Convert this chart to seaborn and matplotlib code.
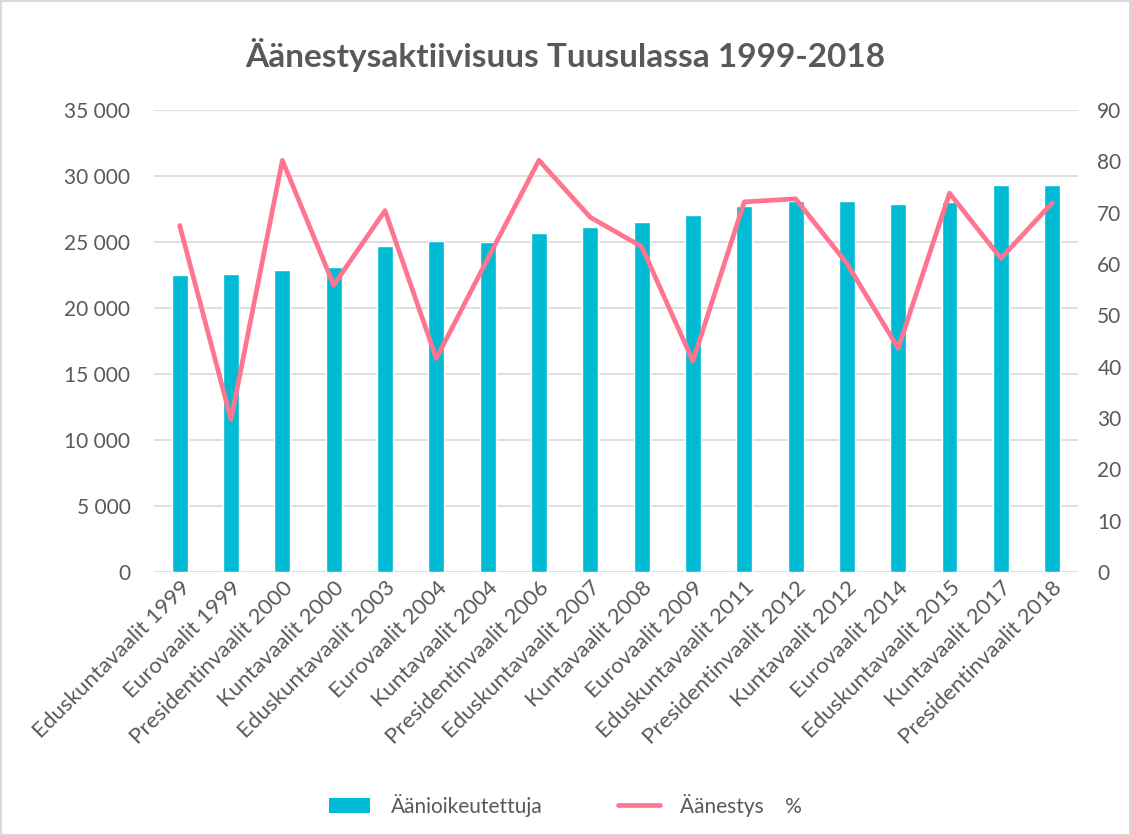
import numpy as np
import pandas as pd
import matplotlib
matplotlib.use("Agg")
import matplotlib.pyplot as plt
import seaborn as sns
from matplotlib.ticker import FuncFormatter, MultipleLocator
from matplotlib.patches import Patch
from matplotlib.lines import Line2D

# Data
vaalit = [
    "Eduskuntavaalit 1999", "Eurovaalit 1999", "Presidentinvaalit 2000",
    "Kuntavaalit 2000", "Eduskuntavaalit 2003", "Eurovaalit 2004",
    "Kuntavaalit 2004", "Presidentinvaalit 2006", "Eduskuntavaalit 2007",
    "Kuntavaalit 2008", "Eurovaalit 2009", "Eduskuntavaalit 2011",
    "Presidentinvaalit 2012", "Kuntavaalit 2012", "Eurovaalit 2014",
    "Eduskuntavaalit 2015", "Kuntavaalit 2017", "Presidentinvaalit 2018",
]
aanioikeutetut = [
    22500, 22600, 22900, 23100, 24700, 25100, 25000, 25650, 26100,
    26500, 27050, 27750, 28100, 28100, 27900, 28050, 29350, 29300,
]
aanestys_pct = [
    67.5, 29.7, 80.2, 55.9, 70.4, 41.6, 61.0, 80.2, 69.1,
    63.4, 41.1, 72.1, 72.7, 60.1, 43.6, 73.8, 61.1, 71.9,
]

BAR_COLOR = "#00BBD3"
LINE_COLOR = "#FF7590"
TEXT_COLOR = "#595959"

sns.set_style("white")
plt.rcParams["font.family"] = ["Lato", "DejaVu Sans"]

df = pd.DataFrame({"vaali": vaalit, "oikeutetut": aanioikeutetut,
                   "pct": aanestys_pct, "pos": np.arange(len(vaalit))})

fig = plt.figure(figsize=(11.31, 8.36), dpi=100)
fig.patch.set_edgecolor("#D9D9D9")
fig.patch.set_linewidth(1.5)
ax = fig.add_axes([0.1362, 0.3158, 0.8168, 0.5526])

sns.barplot(data=df, x="vaali", y="oikeutetut", color=BAR_COLOR,
            width=0.31, saturation=1, ax=ax, zorder=2)
ax.set_ylim(0, 35000)
ax.set_xlim(-0.5, len(vaalit) - 0.5)
ax.yaxis.set_major_locator(MultipleLocator(5000))
ax.yaxis.set_major_formatter(FuncFormatter(lambda v, p: f"{int(v):,}".replace(",", " ")))
ax.grid(axis="y", color="#D9D9D9", linewidth=1.2, zorder=0)
ax.set_axisbelow(True)
ax.set_xlabel("")
ax.set_ylabel("")
ax.tick_params(axis="y", length=0, colors=TEXT_COLOR, labelsize=15, pad=17)
ax.tick_params(axis="x", length=0, colors=TEXT_COLOR, labelsize=16, pad=4)
plt.setp(ax.get_xticklabels(), rotation=45, ha="right", rotation_mode="anchor")
for s in ax.spines.values():
    s.set_visible(False)

ax2 = ax.twinx()
sns.lineplot(data=df, x="pos", y="pct", color=LINE_COLOR, linewidth=3.4,
             sort=False, ax=ax2, solid_capstyle="round", solid_joinstyle="round")
ax2.set_ylim(0, 90)
ax2.yaxis.set_major_locator(MultipleLocator(10))
ax2.set_ylabel("")
ax2.set_xlabel("")
ax2.tick_params(axis="y", length=0, colors=TEXT_COLOR, labelsize=15, pad=14)
for s in ax2.spines.values():
    s.set_visible(False)
ax2.set_xlim(-0.5, len(vaalit) - 0.5)

fig.suptitle("Äänestysaktiivisuus Tuusulassa 1999-2018", y=0.955,
             fontsize=24, fontweight="bold", color=TEXT_COLOR)

handles = [Patch(facecolor=BAR_COLOR, edgecolor="none"),
           Line2D([0], [0], color=LINE_COLOR, linewidth=3.4, solid_capstyle="round")]
fig.legend(handles, ["Äänioikeutettuja", "Äänestys    %"], loc="center",
           bbox_to_anchor=(0.5, 0.037), ncol=2, frameon=False, fontsize=15,
           labelcolor=TEXT_COLOR, handlelength=2.0, handleheight=0.7,
           columnspacing=3.6, handletextpad=1.0)

fig.savefig("out.png", dpi=100)
